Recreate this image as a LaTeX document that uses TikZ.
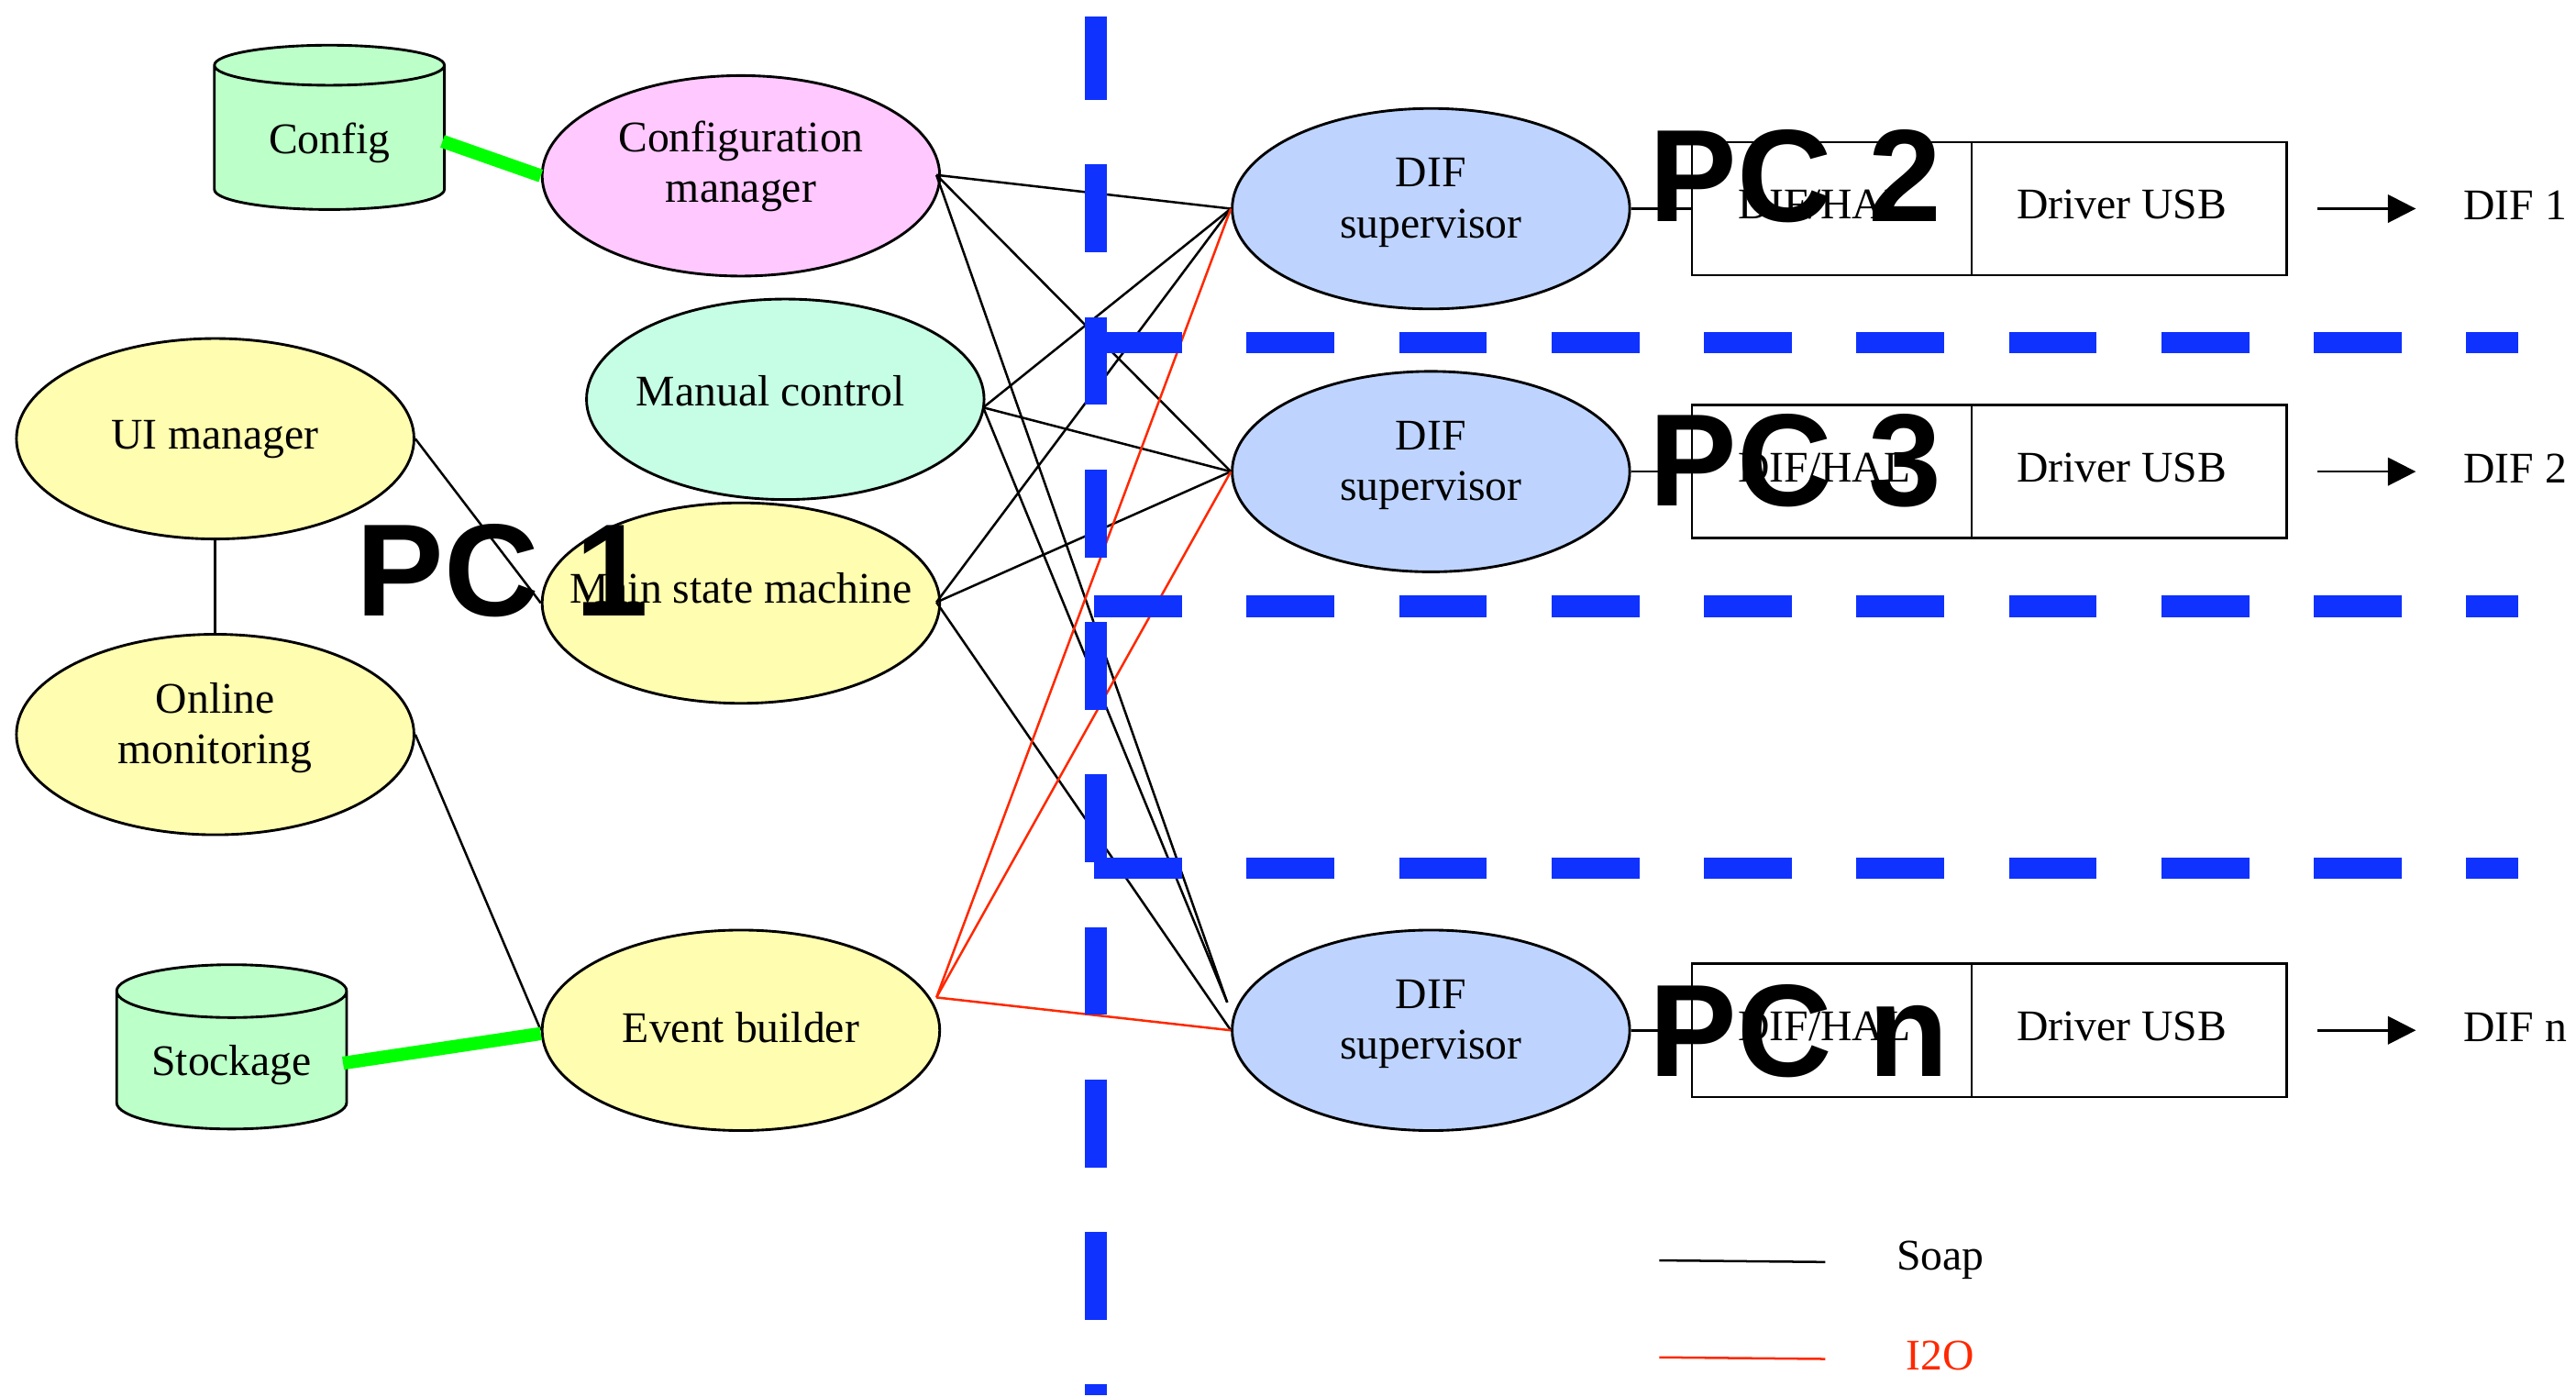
\documentclass[tikz,border=0pt]{standalone}
\usepackage{fontspec}
\setmainfont{Liberation Serif}
\newfontfamily\pcfont{Liberation Sans}[Scale=1]
\usetikzlibrary{shapes.geometric,arrows.meta}
\definecolor{yellowcolor}{RGB}{255,253,176}
\definecolor{pinkcolor}{RGB}{255,200,255}
\definecolor{mintcolor}{RGB}{198,253,229}
\definecolor{difcolor}{RGB}{190,212,255}
\definecolor{dbcolor}{RGB}{188,255,200}
\definecolor{greencolor}{RGB}{0,255,0}
\definecolor{bluecolor}{RGB}{15,50,255}
\definecolor{redcolor}{RGB}{255,40,0}
\begin{document}
\begin{tikzpicture}[x=1pt,y=-1pt, line width=1.4pt,
    every node/.style={font=\fontsize{26.6}{31}\selectfont},
    proc/.style={ellipse, draw, line width=1.6pt, inner xsep=-30pt, inner ysep=0pt, minimum width=242pt, minimum height=122pt, align=center},
    db/.style={cylinder, shape border rotate=90, aspect=0.33, draw, line width=1.6pt, fill=dbcolor, inner sep=0pt, minimum width=140pt, minimum height=100pt, text depth=0pt},
    drv/.style={rectangle, draw, line width=1.4pt, inner sep=0pt, minimum height=81pt, text depth=5pt, align=center},
    soap/.style={draw=black},
    itwoo/.style={draw=redcolor},
    dblink/.style={draw=greencolor, line width=8pt},
    pcline/.style={draw=bluecolor, line width=13pt, dash pattern=on 53.4pt off 39.4pt},
    pclabel/.style={anchor=base west, font=\pcfont\bfseries\fontsize{80}{80}\selectfont}
  ]
    \useasboundingbox (0,0) rectangle (1568,850);

    % Processes on PC 1
    \node[db] (config) at (200.5,84) {Config};
    \node[db] (stockage) at (141,645.5) {Stockage};
    \node[proc, fill=pinkcolor, text depth=17pt] (confman) at (451,107) {Configuration\\manager};
    \node[proc, fill=mintcolor, text depth=10pt] (manual) at (478,243) {Manual control\hspace{18pt}};
    \node[proc, fill=yellowcolor, text depth=5pt] (uiman) at (131,267) {UI manager};
    \node[proc, fill=yellowcolor, text depth=14pt] (online) at (131,447) {Online\\monitoring};
    \node[proc, fill=yellowcolor, text depth=18pt] (mainsm) at (451,367) {Main state machine};
    \node[proc, fill=yellowcolor, text depth=4pt] (evb) at (451,627) {Event builder};
    \coordinate (confout) at (570,106.5);
    \coordinate (manout) at (598.5,248);
    \coordinate (mainout) at (570,366.5);
    \coordinate (evbout) at (570,607);
    \coordinate (supnin) at (747,610);

    % One row for each DIF
    \foreach \nam/\ypos/\lab in {a/127/DIF 1, b/287/DIF 2, n/627/DIF n}{
        \node[proc, fill=difcolor, text depth=13pt] (sup\nam) at (871,\ypos) {DIF\\supervisor};
        \node[drv, minimum width=170pt] (hal\nam) at (1115,\ypos) {DIF/HAL\hspace{9pt}};
        \node[drv, minimum width=192pt] (usb\nam) at (1296,\ypos) {Driver USB\hspace{9pt}};
        \node[anchor=west] (dif\nam) at (1495.5,\ypos-2) {\lab};
        \draw (sup\nam.east) -- (hal\nam.west);
        \draw[-{Stealth[length=17pt,width=17pt,inset=0pt]}, shorten <=18pt, shorten >=25pt] (usb\nam.east) -- (usb\nam.east -| dif\nam.west);
    }

    \draw (uiman.east) -- (mainsm.west);
    \draw (uiman.south) -- (online.north);
    \draw (online.east) -- (evb.west);

    \foreach \from in {confout,manout,mainout}{
        \foreach \to in {a,b}{
            \draw[soap] (\from) -- (sup\to.west);
        }
    }
    \draw[soap] (confout) -- (supnin);
    \draw[soap] (manout) -- (supnin);
    \draw[soap] (mainout) -- (supn.west);
    \foreach \to in {a,b,n}{
        \draw[itwoo] (evbout) -- (sup\to.west);
    }

    \draw[dblink] ([shift={(-2,2)}]config.east) -- (confman.west);
    \draw[dblink] ([shift={(-3,1.5)}]stockage.east) -- ([yshift=-2]evb.west);

    % Borders between the PCs
    \coordinate (vtop) at (667,10);
    \coordinate (vbot) at (667,849);
    \draw[pcline, dash phase=2.6pt] (vtop) -- (vbot);
    \foreach \ypos/\nam in {208.5/a,369/b,528.5/c}{
        \coordinate (hl\nam) at (666,\ypos);
        \coordinate (hr\nam) at (1533,\ypos);
        \draw[pcline] (hl\nam) -- (hr\nam);
    }

    \node[pclabel] (pca) at (213,375) {PC 1};
    \node[pclabel] (pcb) at (1000,135) {PC 2};
    \node[pclabel] (pcc) at (1000,308) {PC 3};
    \node[pclabel] (pcn) at (1000,655) {PC n};

    % Legend
    \coordinate (soapa) at (1010,767);
    \coordinate (soapb) at (1111,768);
    \coordinate (itwooa) at (1010,826);
    \coordinate (itwoob) at (1111,827);
    \draw[soap] (soapa) -- (soapb);
    \draw[itwoo] (itwooa) -- (itwoob);
    \node (soaplab) at (1181,767) {Soap};
    \node[text=redcolor] (itwoolab) at (1181,825) {I2O};
\end{tikzpicture}
\end{document}
